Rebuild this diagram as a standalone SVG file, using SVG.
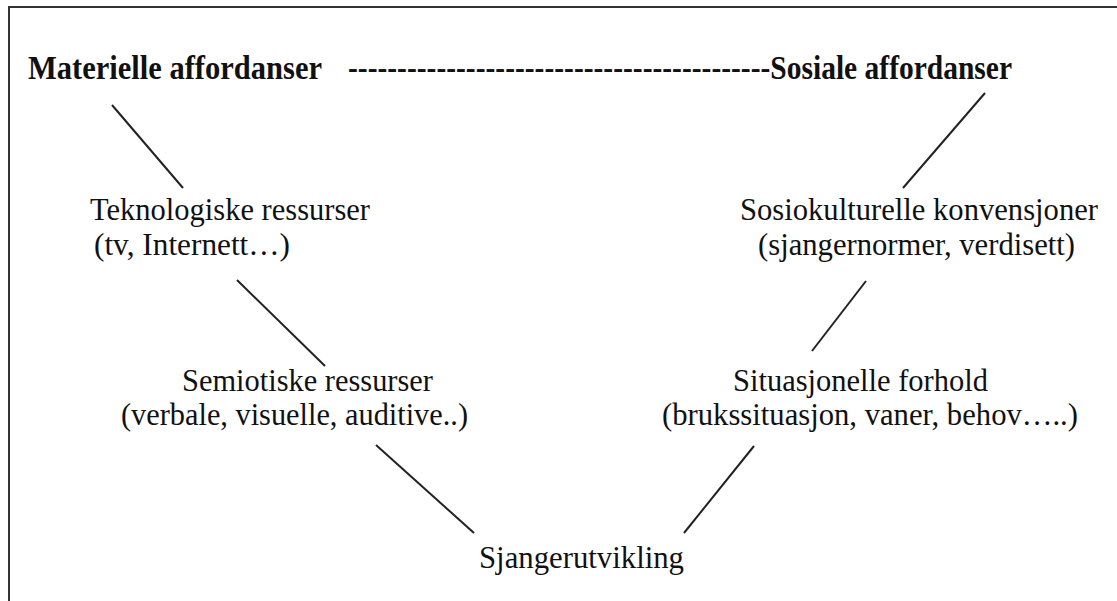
<svg xmlns="http://www.w3.org/2000/svg" width="1117" height="601" viewBox="0 0 1117 601">
<style>
.frame{fill:none;stroke:#333;stroke-width:2}
.c{stroke:#222;stroke-width:2;fill:none}
text{font-family:'Liberation Serif','Times New Roman','DejaVu Serif',serif;fill:#111}
.b{font-weight:bold;font-size:33px}
.r{font-size:31px}
</style>
<rect width="1117" height="601" fill="#fff"/>
<path class="frame" d="M9,601 V7 H1117"/>
<g id="heading-materielle"><text class="b" font-family="Liberation Serif, serif" x="28" y="79" textLength="294" lengthAdjust="spacingAndGlyphs">Materielle affordanser</text></g>
<g id="heading-sosiale"><text class="b" font-family="Liberation Serif, serif" x="348" y="79" textLength="664" lengthAdjust="spacingAndGlyphs">-------------------------------------------Sosiale affordanser</text></g>
<g id="teknologiske"><text class="r" font-family="Liberation Serif, serif" x="90" y="220" textLength="280" lengthAdjust="spacingAndGlyphs">Teknologiske ressurser</text><text class="r" font-family="Liberation Serif, serif" x="94" y="255" textLength="196" lengthAdjust="spacingAndGlyphs">(tv, Internett…)</text></g>
<g id="sosiokulturelle"><text class="r" font-family="Liberation Serif, serif" x="740" y="220" textLength="358" lengthAdjust="spacingAndGlyphs">Sosiokulturelle konvensjoner</text><text class="r" font-family="Liberation Serif, serif" x="758" y="255" textLength="317" lengthAdjust="spacingAndGlyphs">(sjangernormer, verdisett)</text></g>
<g id="semiotiske"><text class="r" font-family="Liberation Serif, serif" x="182" y="391" textLength="251" lengthAdjust="spacingAndGlyphs">Semiotiske ressurser</text><text class="r" font-family="Liberation Serif, serif" x="121" y="425" textLength="347" lengthAdjust="spacingAndGlyphs">(verbale, visuelle, auditive..)</text></g>
<g id="situasjonelle"><text class="r" font-family="Liberation Serif, serif" x="733" y="391" textLength="255" lengthAdjust="spacingAndGlyphs">Situasjonelle forhold</text><text class="r" font-family="Liberation Serif, serif" x="662" y="425" textLength="416" lengthAdjust="spacingAndGlyphs">(brukssituasjon, vaner, behov…..)</text></g>
<g id="sjangerutvikling"><text class="r" font-family="Liberation Serif, serif" x="479" y="568" textLength="205" lengthAdjust="spacingAndGlyphs">Sjangerutvikling</text></g>
<g id="connectors">
<line class="c" x1="112" y1="105" x2="183" y2="188"/>
<line class="c" x1="985" y1="93" x2="903" y2="188"/>
<line class="c" x1="237" y1="280" x2="325" y2="366"/>
<line class="c" x1="866" y1="281" x2="812" y2="351"/>
<line class="c" x1="376" y1="445" x2="474" y2="533"/>
<line class="c" x1="754" y1="446" x2="684" y2="533"/>
</g>
</svg>
